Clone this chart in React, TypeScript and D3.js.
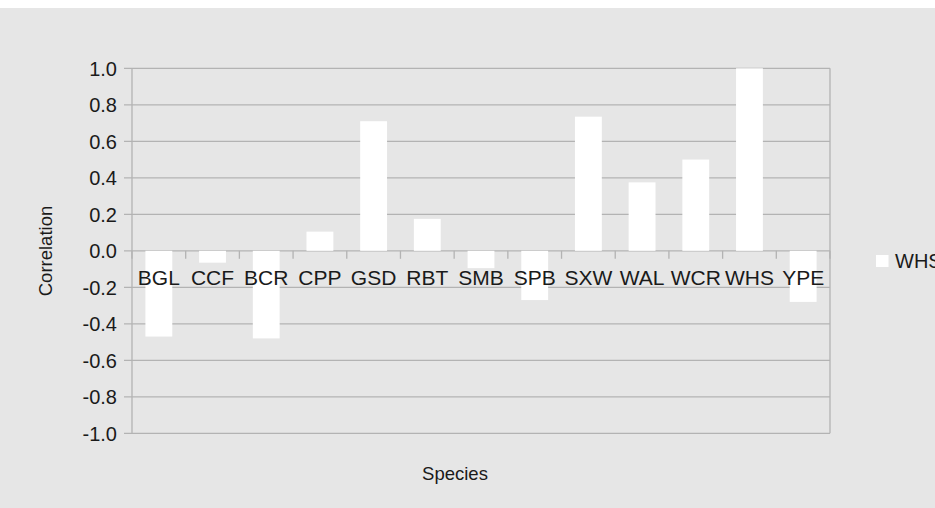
import React from "react";
import * as d3 from "d3";

const categories = ["BGL", "CCF", "BCR", "CPP", "GSD", "RBT", "SMB", "SPB", "SXW", "WAL", "WCR", "WHS", "YPE"];
const values = [-0.47, -0.065, -0.48, 0.105, 0.71, 0.175, -0.095, -0.27, 0.735, 0.375, 0.5, 1.0, -0.28];
const yTicks = [-1.0, -0.8, -0.6, -0.4, -0.2, 0.0, 0.2, 0.4, 0.6, 0.8, 1.0];
const seriesName = "WHS";
const xTitle = "Species";
const yTitle = "Correlation";

const W = 935;
const H = 500;
const OFF = 8; // svg sits 8px below the page top
const left = 132;
const right = 830;
const top = 68.3 - OFF;
const bottom = 433.3 - OFF;
const FONT = "'Liberation Sans', Arial, sans-serif";
const GRID = "#b3b3b3";
const TXT = "#1a1a1a";

const fmt = (t: number) => d3.format(".1f")(t).replace("\u2212", "-");

export default function App() {
  const x = d3.scaleBand<string>().domain(categories).range([left, right]).paddingInner(0.5).paddingOuter(0.25);
  const y = d3.scaleLinear().domain([-1, 1]).range([bottom, top]);
  const step = x.step();
  const boundaries = d3.range(categories.length + 1).map((i) => left + i * step);
  const y0 = y(0);

  return (
    <svg
      width={W}
      height={H}
      style={{ position: "absolute", left: 0, top: OFF, display: "block" }}
      fontFamily={FONT}
    >
      <rect x={0} y={0} width={W} height={H} fill="#e6e6e6" />
      {yTicks.map((t) => (
        <line key={"g" + t} x1={left - 8} x2={right} y1={y(t)} y2={y(t)} stroke={GRID} strokeWidth={1.3} />
      ))}
      <line x1={left} x2={left} y1={top} y2={bottom} stroke={GRID} strokeWidth={1.3} />
      <line x1={right} x2={right} y1={top} y2={bottom} stroke={GRID} strokeWidth={1.3} />
      {boundaries.map((b, i) => (
        <line key={"t" + i} x1={b} x2={b} y1={y0} y2={y0 + 8} stroke={GRID} strokeWidth={1.3} />
      ))}
      {categories.map((c, i) => {
        const v = values[i];
        return (
          <rect
            key={c}
            x={x(c)}
            width={x.bandwidth()}
            y={Math.min(y(v), y0)}
            height={Math.abs(y(v) - y0)}
            fill="#ffffff"
          />
        );
      })}
      {yTicks.map((t) => (
        <text key={"l" + t} x={117} y={y(t) + 7.5} textAnchor="end" fontSize={20} fill={TXT}>
          {fmt(t)}
        </text>
      ))}
      {categories.map((c) => (
        <text key={"x" + c} x={(x(c) as number) + x.bandwidth() / 2} y={285 - OFF} textAnchor="middle" fontSize={21} fill={TXT}>
          {c}
        </text>
      ))}
      <text x={455} y={480 - OFF} textAnchor="middle" fontSize={18.5} fill={TXT}>
        {xTitle}
      </text>
      <text transform={`translate(52, ${251 - OFF}) rotate(-90)`} textAnchor="middle" fontSize={18.5} fill={TXT}>
        {yTitle}
      </text>
      <rect x={876} y={255 - OFF} width={12.5} height={12} fill="#ffffff" />
      <text x={895} y={268 - OFF} fontSize={20} fill={TXT}>
        {seriesName}
      </text>
    </svg>
  );
}
